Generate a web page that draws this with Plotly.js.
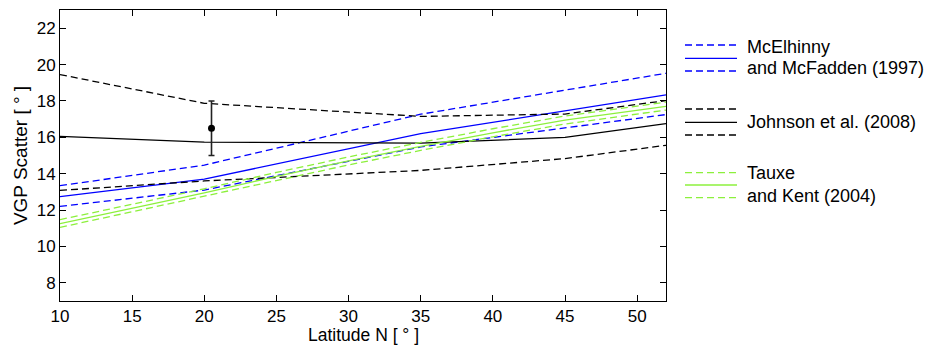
<!DOCTYPE html>
<html>
<head>
<meta charset="utf-8">
<script src="https://cdn.plot.ly/plotly-3.0.1.min.js"></script>
<style>html,body{margin:0;padding:0;background:#fff;}#chart{width:930px;height:346px;}</style>
</head>
<body>
<div id="chart"></div>
<script>
// ---- data ----
const latMM = [10, 20, 35, 45, 52];
const mmUpper = [13.34, 14.47, 17.27, 18.60, 19.52];
const mmMid   = [12.74, 13.70, 16.20, 17.45, 18.33];
const mmLower = [12.20, 13.10, 15.47, 16.50, 17.25];

const latJ = [10, 20, 35, 45, 52];
const jUpper = [19.45, 17.87, 17.15, 17.28, 18.02];
const jMid   = [16.05, 15.73, 15.68, 16.00, 16.75];
const jLower = [13.08, 13.60, 14.18, 14.83, 15.56];

const latTK = [10, 15, 20, 25, 30, 35, 40, 45, 50, 52];
const tkUpper = [11.47, 12.32, 13.17, 14.07, 14.92, 15.72, 16.47, 17.17, 17.72, 17.93];
const tkMid   = [11.25, 12.10, 12.95, 13.85, 14.70, 15.50, 16.25, 16.95, 17.50, 17.70];
const tkLower = [11.05, 11.90, 12.75, 13.63, 14.48, 15.28, 16.03, 16.73, 17.28, 17.50];

const obsLat = [20.5];
const obsVal = [16.5];
const obsErr = [1.5];

const xTicks = [10, 15, 20, 25, 30, 35, 40, 45, 50];
const yTicks = [8, 10, 12, 14, 16, 18, 20, 22];

const xTitle = "Latitude N [ ° ]";
const yTitle = "VGP Scatter [ ° ]";
const legendLabels = [
  ["McElhinny", "and McFadden (1997)"],
  ["Johnson et al. (2008)"],
  ["Tauxe", "and Kent (2004)"]
];

// ---- styles ----
const BLUE = "#0000ff", BLACK = "#000000", GREEN = "#8cf03c";
const DASH = "7px,4px";
const LW = 1.3;
const FONT = "Liberation Sans, Arial, sans-serif";

function ln(x, y, color, dashed) {
  return {x: x, y: y, type: "scatter", mode: "lines", hoverinfo: "skip", showlegend: false,
          line: {color: color, width: LW, dash: dashed ? DASH : "solid"}};
}

const traces = [
  ln(latMM, mmUpper, BLUE, true), ln(latMM, mmMid, BLUE, false), ln(latMM, mmLower, BLUE, true),
  ln(latJ, jUpper, BLACK, true), ln(latJ, jMid, BLACK, false), ln(latJ, jLower, BLACK, true),
  ln(latTK, tkUpper, GREEN, true), ln(latTK, tkMid, GREEN, false), ln(latTK, tkLower, GREEN, true),
  {x: obsLat, y: obsVal, type: "scatter", mode: "markers", showlegend: false,
   marker: {color: BLACK, size: 7},
   error_y: {type: "data", array: obsErr, visible: true, color: "#222", thickness: 1.6, width: 3}}
];

// legend drawn in pixel space -> paper coords
const L = 60, R = 264, T = 10, B = 45, W = 930, H = 346;
const pw = W - L - R, ph = H - T - B;
const px = v => (v - L) / pw;
const py = v => (H - B - v) / ph;

const groups = [
  {color: BLUE,  ys: [45, 58.3, 71],    texts: [46.7, 68.3]},
  {color: BLACK, ys: [109, 122.3, 135], texts: [121.7]},
  {color: GREEN, ys: [172.7, 185, 197.7], texts: [173.3, 196]}
];
const shapes = [], annotations = [];
groups.forEach((g, gi) => {
  g.ys.forEach((y, k) => {
    shapes.push({type: "line", xref: "paper", yref: "paper", x0: px(685), x1: px(737), y0: py(y), y1: py(y),
                 line: {color: g.color, width: LW, dash: k === 1 ? "solid" : DASH}});
  });
  g.texts.forEach((y, k) => {
    annotations.push({xref: "paper", yref: "paper", x: px(745), y: py(y), xanchor: "left", yanchor: "middle",
                      text: legendLabels[gi][k], showarrow: false, font: {family: FONT, size: 18, color: "#000"}});
  });
});
// x-axis title placed at the bottom edge, under the tick labels
annotations.push({xref: "paper", yref: "paper", x: 0.5, y: py(346), xanchor: "center", yanchor: "bottom",
                  text: xTitle, showarrow: false, font: {family: FONT, size: 17.5, color: "#000"},
                  borderpad: 0});

const axisCommon = {
  showline: true, mirror: "ticks", linecolor: "#000", linewidth: 1,
  ticks: "inside", ticklen: 6, tickcolor: "#000", tickwidth: 1,
  showgrid: false, zeroline: false, tickmode: "array",
  tickfont: {family: FONT, size: 17, color: "#000"}
};

const layout = {
  width: W, height: H,
  margin: {l: L, r: R, t: T, b: B},
  paper_bgcolor: "#fff", plot_bgcolor: "#fff",
  showlegend: false,
  xaxis: Object.assign({}, axisCommon, {range: [10, 52], tickvals: xTicks, ticktext: xTicks.map(String)}),
  yaxis: Object.assign({}, axisCommon, {range: [7, 23], tickvals: yTicks, ticktext: yTicks.map(String),
    title: {text: yTitle, font: {family: FONT, size: 19, color: "#000"}, standoff: 4}}),
  shapes: shapes,
  annotations: annotations
};

Plotly.newPlot("chart", traces, layout, {staticPlot: true, displayModeBar: false});
</script>
</body>
</html>
